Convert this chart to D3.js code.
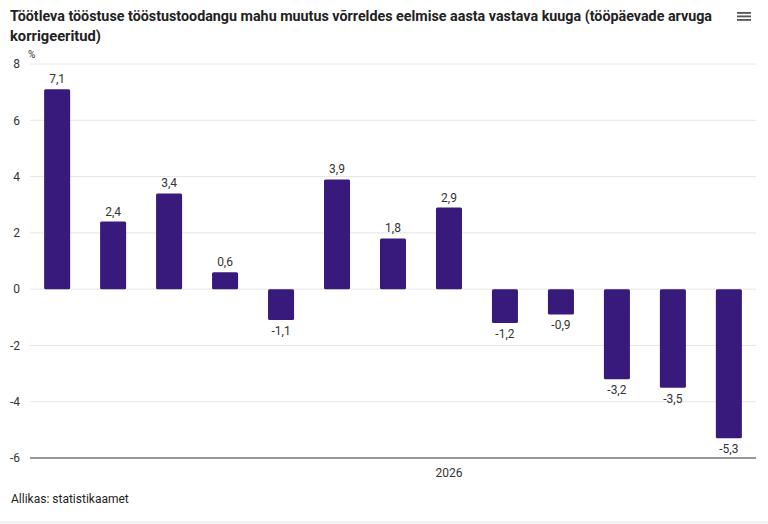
<!DOCTYPE html>
<html lang="et">
	<head>
		<meta charset="utf-8">
		<title>Töötleva tööstuse tööstustoodangu mahu muutus</title>
		<script type="text/javascript" src="https://cdnjs.cloudflare.com/ajax/libs/d3/7.8.5/d3.min.js"></script>
		<style type="text/css">
			body { margin: 0; background: #fff; }
			svg { display: block; font-family: Roboto, "Noto Sans", sans-serif; }
		</style>
	</head>
	<body>
		<script type="text/javascript">

			//Chart size
			var w = 768;
			var h = 524;

			//Data
			var categories = ["1", "2", "3", "4", "5", "6", "7", "8", "9", "10", "11", "12", "13"];
			var values = [7.1, 2.4, 3.4, 0.6, -1.1, 3.9, 1.8, 2.9, -1.2, -0.9, -3.2, -3.5, -5.3];
			var yTicks = [8, 6, 4, 2, 0, -2, -4, -6];
			var yearLabel = "2026";
			var yearFrom = "3", yearTo = "13";   //bars under the year label

			var titleLines = [
				"Töötleva tööstuse tööstustoodangu mahu muutus võrreldes eelmise aasta vastava kuuga (tööpäevade arvuga",
				"korrigeeritud)"
			];
			var source = "Allikas: statistikaamet";

			var fmt = d => String(d).replace(".", ",");

			//Scales
			var xScale = d3.scaleBand()
				.domain(categories)
				.range([29, 757])
				.paddingInner(0.535)
				.paddingOuter(0.27);

			var yScale = d3.scaleLinear()
				.domain([-6, 8])
				.range([458, 64]);

			var svg = d3.select("body")
				.append("svg")
				.attr("width", w)
				.attr("height", h);

			//Title
			svg.append("text")
				.attr("x", 10).attr("y", 21)
				.attr("font-size", 15).attr("font-weight", "bold").attr("fill", "#222")
				.attr("textLength", 702).attr("lengthAdjust", "spacingAndGlyphs")
				.text(titleLines[0]);
			svg.append("text")
				.attr("x", 10).attr("y", 41)
				.attr("font-size", 15).attr("font-weight", "bold").attr("fill", "#222")
				.attr("textLength", 91).attr("lengthAdjust", "spacingAndGlyphs")
				.text(titleLines[1]);

			//Menu icon
			svg.append("g")
				.selectAll("rect")
				.data([0, 1, 2])
				.join("rect")
				.attr("x", 737).attr("y", d => 12 + d * 3.5)
				.attr("width", 14).attr("height", 1.8)
				.attr("fill", "#555");

			//Grid lines
			svg.append("g")
				.selectAll("line")
				.data(yTicks.filter(d => d !== -6))
				.join("line")
				.attr("x1", 30).attr("x2", 756)
				.attr("y1", d => yScale(d)).attr("y2", d => yScale(d))
				.attr("stroke", "#e6e6e6").attr("stroke-width", 1);

			//Y axis labels
			var yAxis = d3.axisLeft(yScale)
				.tickValues(yTicks)
				.tickSize(0)
				.tickPadding(0)
				.tickFormat(d => d);
			var yg = svg.append("g")
				.attr("transform", "translate(20,0)")
				.call(yAxis);
			yg.select(".domain").remove();
			yg.selectAll("text")
				.attr("font-size", 12).attr("fill", "#333")
				.attr("font-family", "Roboto, sans-serif");

			svg.append("text")
				.attr("x", 28).attr("y", 58)
				.attr("font-size", 10).attr("fill", "#333")
				.text("%");

			//Bars
			svg.append("g")
				.selectAll("rect")
				.data(values)
				.join("rect")
				.attr("x", (d, i) => xScale(categories[i]))
				.attr("width", xScale.bandwidth())
				.attr("y", d => yScale(Math.max(0, d)))
				.attr("height", d => Math.abs(yScale(d) - yScale(0)))
				.attr("rx", 1.5)
				.attr("fill", "#381a7c");

			//Value labels
			svg.append("g")
				.selectAll("text")
				.data(values)
				.join("text")
				.attr("x", (d, i) => xScale(categories[i]) + xScale.bandwidth() / 2)
				.attr("y", d => d >= 0 ? yScale(d) - 6 : yScale(d) + 15)
				.attr("text-anchor", "middle")
				.attr("font-size", 12).attr("fill", "#333")
				.text(fmt);

			//X axis line
			svg.append("line")
				.attr("x1", 30).attr("x2", 756)
				.attr("y1", yScale(-6)).attr("y2", yScale(-6))
				.attr("stroke", "#333").attr("stroke-width", 1.2);

			//Year label
			svg.append("text")
				.attr("x", (xScale(yearFrom) + xScale(yearTo) + xScale.bandwidth()) / 2)
				.attr("y", 477)
				.attr("text-anchor", "middle")
				.attr("font-size", 12).attr("fill", "#333")
				.text(yearLabel);

			//Source
			svg.append("text")
				.attr("x", 11).attr("y", 503)
				.attr("font-size", 12).attr("fill", "#222")
				.text(source);

			//Bottom strip
			svg.append("rect")
				.attr("x", 0).attr("y", 521)
				.attr("width", w).attr("height", 3)
				.attr("fill", "#f2f2f2");

		</script>
	</body>
</html>
